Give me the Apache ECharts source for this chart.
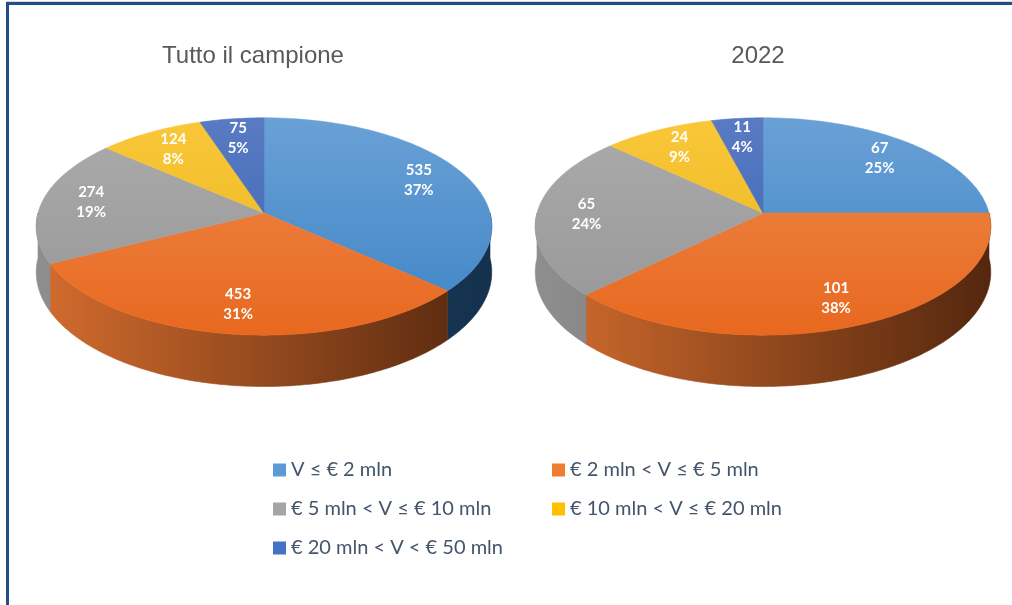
<!DOCTYPE html>
<html>
<head>
<meta charset="utf-8">
<script src="https://cdn.jsdelivr.net/npm/echarts@6/dist/echarts.min.js"></script>
<style>
  html, body { margin: 0; padding: 0; background: #ffffff; }
  .frame {
    position: absolute; left: 6px; top: 2px; width: 1100px; height: 700px;
    border-top: 3px solid #1f4e89; border-left: 3px solid #1f4e89;
    box-shadow: 0 -1px 0 #d9d9d9;
  }
  #chart { position: absolute; left: 0; top: 0; width: 1012px; height: 605px; }
</style>
</head>
<body>
<div class="frame"></div>
<div id="chart"></div>
<script>
const CATEGORIES = [
  "V ≤ € 2 mln",
  "€ 2 mln < V ≤ € 5 mln",
  "€ 5 mln < V ≤ € 10 mln",
  "€ 10 mln < V ≤ € 20 mln",
  "€ 20 mln < V < € 50 mln"
];
const PIE_TITLES = ["Tutto il campione", "2022"];
const VALUES_ALL = [535, 453, 274, 124, 75];
const VALUES_2022 = [67, 101, 65, 24, 11];
const PIE_VALUES = [VALUES_ALL, VALUES_2022];

// office palette: flat (legend), top face light/dark, side wall left/right
const COLORS = ["#5b9bd5", "#ed7d31", "#a5a5a5", "#ffc000", "#4472c4"];
const TOP_LIGHT = ["#6ca2d7", "#ef8c4f", "#acacac", "#fbc83a", "#5a7cc4"];
const TOP_DARK = ["#3d84c5", "#e8681f", "#969696", "#e6b41f", "#3a62b0"];
const WALL_LEFT = ["#24486c", "#d36c2e", "#8e8e8e", "#c89a10", "#2c4e8c"];
const WALL_RIGHT = ["#14314d", "#54270e", "#5e5e5e", "#7a5c08", "#1c3260"];

// 3d pie geometry (pixels)
const PIES = [{ cx: 264, cy: 213 }, { cx: 763, cy: 213 }];
const SX = 226, SY = 107, K = 0.124, DEPTH = 45;
const LABEL_R = 0.78;

const chart = echarts.init(document.getElementById("chart"));

function project(pie, theta, r, drop) {
  const s = Math.sin(theta), c = Math.cos(theta);
  const w = 1 + K * r * c;
  return [pie.cx + SX * r * s / w, pie.cy - SY * r * c / w + (drop || 0) / w];
}

function arcPoints(pie, a, b, drop) {
  const pts = [];
  const n = Math.max(2, Math.ceil((b - a) / (Math.PI / 180)));
  for (let i = 0; i <= n; i++) pts.push(project(pie, a + (b - a) * i / n, 1, drop));
  return pts;
}

function renderSlice(params, api) {
  const cat = params.seriesIndex;
  const p = params.dataIndex;
  const vals = PIE_VALUES[p];
  const total = vals.reduce((s, v) => s + v, 0);
  const before = vals.slice(0, cat).reduce((s, v) => s + v, 0);
  const value = api.value(0);
  const a = before / total * Math.PI * 2;
  const b = (before + value) / total * Math.PI * 2;
  const pie = PIES[p];
  const children = [];

  // front side wall
  const wa = Math.max(a, Math.PI / 2), wb = Math.min(b, Math.PI * 1.5);
  if (wb > wa) {
    const top = arcPoints(pie, wa, wb, 0);
    const bottom = arcPoints(pie, wa, wb, DEPTH).reverse();
    const wallFill = new echarts.graphic.LinearGradient(
      pie.cx - SX, 0, pie.cx + SX, 0,
      [{ offset: 0, color: WALL_LEFT[cat] }, { offset: 1, color: WALL_RIGHT[cat] }], true);
    children.push({
      type: "polygon", z2: 1,
      shape: { points: top.concat(bottom) },
      style: { fill: wallFill, stroke: wallFill, lineWidth: 0.6 }
    });
  }

  // top face
  const topFill = new echarts.graphic.LinearGradient(
    0, pie.cy - SY, 0, pie.cy + SY * 1.15,
    [{ offset: 0, color: TOP_LIGHT[cat] }, { offset: 1, color: TOP_DARK[cat] }], true);
  children.push({
    type: "polygon", z2: 5,
    shape: { points: [[pie.cx, pie.cy]].concat(arcPoints(pie, a, b, 0)) },
    style: { fill: topFill, stroke: topFill, lineWidth: 0.6 }
  });

  // label
  const lp = project(pie, (a + b) / 2, LABEL_R, 0);
  children.push({
    type: "text", z2: 10,
    x: lp[0], y: lp[1],
    style: {
      text: value + "\n" + Math.round(value / total * 100) + "%",
      fill: "#ffffff",
      font: "bold 15px Lato, 'Noto Sans', sans-serif",
      lineHeight: 20,
      align: "center",
      verticalAlign: "middle"
    }
  });
  return { type: "group", children };
}

const series = CATEGORIES.map((name, i) => ({
  name,
  type: "custom",
  coordinateSystem: "none",
  itemStyle: { color: COLORS[i] },
  renderItem: renderSlice,
  data: PIE_VALUES.map(v => v[i])
}));

const legendText = { color: "#44546a", fontSize: 20, fontFamily: "Lato, 'Noto Sans', sans-serif" };

chart.setOption({
  animation: false,
  title: PIE_TITLES.map((t, i) => ({
    text: t,
    left: [248, 753][i],
    top: 39,
    textAlign: "center",
    textStyle: { color: "#595959", fontSize: 24, fontWeight: "normal", fontFamily: "'Liberation Sans', Arial, sans-serif" }
  })),
  legend: [
    {
      data: [CATEGORIES[0], CATEGORIES[2], CATEGORIES[4]],
      orient: "vertical", left: 268, top: 455,
      itemWidth: 13, itemHeight: 13, itemGap: 19, icon: "rect",
      textStyle: legendText, selectedMode: false
    },
    {
      data: [CATEGORIES[1], CATEGORIES[3]],
      orient: "vertical", left: 547, top: 455,
      itemWidth: 13, itemHeight: 13, itemGap: 19, icon: "rect",
      textStyle: legendText, selectedMode: false
    }
  ],
  series
});
</script>
</body>
</html>
